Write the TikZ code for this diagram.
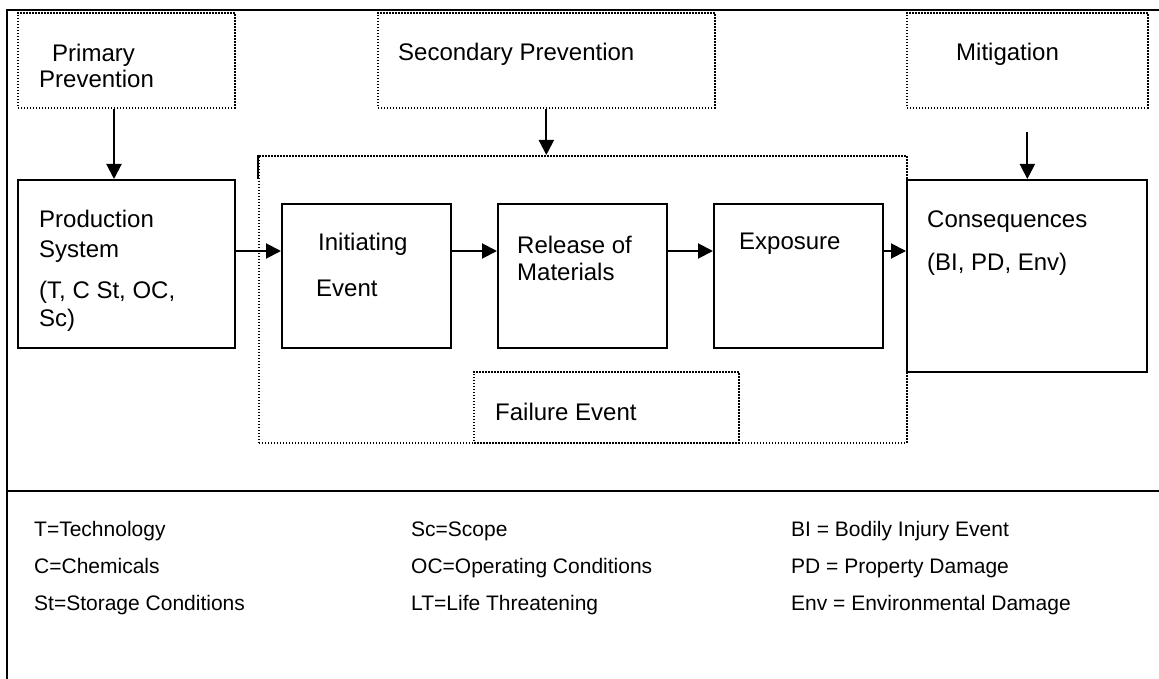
\documentclass[tikz,border=0pt]{standalone}
\usepackage{fontspec}
\setmainfont{Liberation Sans}
\usetikzlibrary{arrows.meta,calc}
\begin{document}
\begin{tikzpicture}[x=1pt,y=-1pt,
  solidbox/.style={draw,line width=2pt,inner sep=0pt,anchor=north west},
  dotbox/.style={draw,line width=1.7pt,dash pattern=on 1.5pt off 1.5pt,inner sep=0pt,anchor=north west},
  arr/.style={line width=2pt,-{Triangle[length=15pt,width=15pt]}},
  txt/.style={anchor=base west,inner sep=0pt,font=\fontsize{24}{28}\selectfont},
  leg/.style={anchor=base west,inner sep=0pt,font=\fontsize{21}{24}\selectfont},
  frame/.style={line width=2pt}]
\useasboundingbox (0,0) rectangle (1159,679);
% outer frame
\draw[frame] (1159,10) -- (7,10) -- (7,679);
\draw[frame] (7,491) -- (1159,491);
% dotted boxes
\node[dotbox,minimum width=217pt,minimum height=95pt] (pp) at (17,12) {};
\node[dotbox,minimum width=337pt,minimum height=95pt] (sp) at (377,12) {};
\node[dotbox,minimum width=241pt,minimum height=95pt] (mit) at (906,12) {};
\node[dotbox,minimum width=648pt,minimum height=287pt] (fe) at (258,155) {};
\node[dotbox,minimum width=265pt,minimum height=71pt] (fail) at (473,371) {};
\draw[line width=1.8pt] (fe.north west) -- ++(0,24);
% solid boxes
\node[solidbox,minimum width=217pt,minimum height=168pt] (prod) at (17,179) {};
\node[solidbox,minimum width=169pt,minimum height=144pt] (init) at (281,203) {};
\node[solidbox,minimum width=169pt,minimum height=144pt] (rel) at (497,203) {};
\node[solidbox,minimum width=169pt,minimum height=144pt] (exp) at (713,203) {};
\node[solidbox,minimum width=240pt,minimum height=192pt] (cons) at (906,179) {};
% texts
\node[txt] (tpp1) at (52,62) {Primary};
\node[txt] (tpp2) at (39,88) {Prevention};
\node[txt] (tsp) at (398,61) {Secondary Prevention};
\node[txt] (tmit) at (956,61) {Mitigation};
\node[txt] (tpr1) at (39,228) {Production};
\node[txt] (tpr2) at (39,257) {System};
\node[txt] (tpr3) at (39,298) {(T, C St, OC,};
\node[txt] (tpr4) at (39,326) {Sc)};
\node[txt] (tin1) at (318,251) {Initiating};
\node[txt] (tin2) at (316,296) {Event};
\node[txt] (trl1) at (517,253) {Release of};
\node[txt] (trl2) at (517,280) {Materials};
\node[txt] (tex) at (739,249) {Exposure};
\node[txt] (tco1) at (927,228) {Consequences};
\node[txt] (tco2) at (927,270) {(BI, PD, Env)};
\node[txt] (tfa) at (495,420) {Failure Event};
% legend
\node[leg] (l11) at (34,536) {T=Technology};
\node[leg] (l12) at (34,573) {C=Chemicals};
\node[leg] (l13) at (34,610) {St=Storage Conditions};
\node[leg] (l21) at (411,536) {Sc=Scope};
\node[leg] (l22) at (411,573) {OC=Operating Conditions};
\node[leg] (l23) at (411,610) {LT=Life Threatening};
\node[leg] (l31) at (791,536) {BI = Bodily Injury Event};
\node[leg] (l32) at (791,573) {PD = Property Damage};
\node[leg] (l33) at (791,610) {Env = Environmental Damage};
% arrows
\draw[arr] ($(pp.south west)+(97,0)$) -- ($(prod.north west)+(97,0)$);
\draw[arr] (sp.south) -- (sp.south |- fe.north);
\coordinate (mstart) at ($(mit.south)+(0,23)$);
\draw[arr] (mstart) -- (mstart |- cons.north);
\coordinate (row) at (0,251);
\draw[arr] (prod.east |- row) -- (init.west |- row);
\draw[arr] (init.east |- row) -- (rel.west |- row);
\draw[arr] (rel.east |- row) -- (exp.west |- row);
\draw[arr] (exp.east |- row) -- (cons.west |- row);
\end{tikzpicture}
\end{document}
